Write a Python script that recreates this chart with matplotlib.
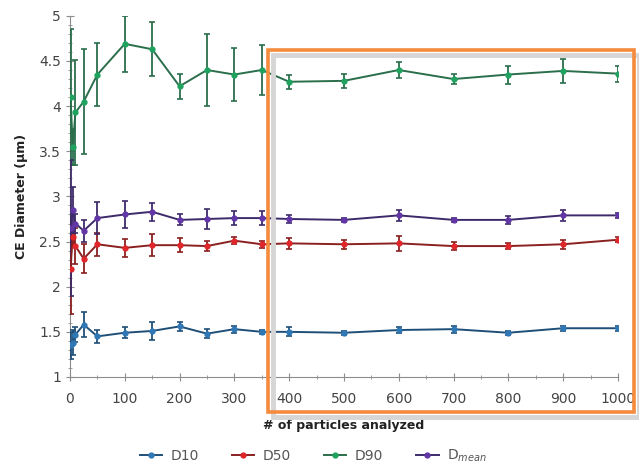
import matplotlib
matplotlib.use('Agg')
import matplotlib.pyplot as plt
from matplotlib.patches import Rectangle
from matplotlib.lines import Line2D
from matplotlib.ticker import MultipleLocator, FuncFormatter

# particle counts
n_particles = [1, 5, 10, 25, 50, 100, 150, 200, 250, 300, 350, 400, 500, 600, 700, 800, 900, 1000]

d10 = [1.35, 1.38, 1.47, 1.58, 1.45, 1.49, 1.51, 1.56, 1.48, 1.53, 1.50, 1.50, 1.49, 1.52, 1.53, 1.49, 1.54, 1.54]
d10_err = [0.15, 0.14, 0.08, 0.14, 0.07, 0.06, 0.10, 0.05, 0.05, 0.04, 0.02, 0.05, 0.02, 0.03, 0.04, 0.02, 0.03, 0.03]

d50 = [2.20, 2.55, 2.45, 2.31, 2.47, 2.43, 2.46, 2.46, 2.45, 2.51, 2.47, 2.48, 2.47, 2.48, 2.45, 2.45, 2.47, 2.52]
d50_err = [0.50, 0.10, 0.20, 0.16, 0.13, 0.10, 0.12, 0.08, 0.06, 0.04, 0.04, 0.06, 0.05, 0.08, 0.04, 0.03, 0.05, 0.03]

d90 = [4.10, 3.55, 3.93, 4.05, 4.35, 4.69, 4.63, 4.22, 4.40, 4.35, 4.40, 4.27, 4.28, 4.40, 4.30, 4.35, 4.39, 4.36]
d90_err = [0.75, 0.20, 0.58, 0.58, 0.35, 0.31, 0.30, 0.14, 0.40, 0.29, 0.28, 0.08, 0.08, 0.09, 0.06, 0.10, 0.13, 0.09]

dmean = [2.65, 2.85, 2.70, 2.62, 2.76, 2.80, 2.83, 2.74, 2.75, 2.76, 2.76, 2.75, 2.74, 2.79, 2.74, 2.74, 2.79, 2.79]
dmean_err = [0.75, 0.25, 0.10, 0.12, 0.18, 0.15, 0.10, 0.06, 0.11, 0.08, 0.08, 0.04, 0.02, 0.06, 0.02, 0.04, 0.06, 0.03]

series = [
    ('D10', d10, d10_err, '#2f78b5', '#1f4f78'),
    ('D50', d50, d50_err, '#e0262a', '#8a2020'),
    ('D90', d90, d90_err, '#1ea35f', '#2a6e4c'),
    ('D$_{mean}$', dmean, dmean_err, '#6236a6', '#3d2a6a'),
]

fig = plt.figure(figsize=(6.39, 4.66), dpi=100)
ax = fig.add_axes([0.1095, 0.191, 0.8575, 0.775])

handles = []
for name, vals, errs, col, ecol in series:
    ax.errorbar(n_particles, vals, yerr=errs, color=ecol, ecolor=ecol, elinewidth=1.3,
                capsize=2, capthick=1.2, marker='o', markersize=3.5, markerfacecolor=col,
                markeredgecolor=col, linewidth=1.4, zorder=3)
    handles.append(Line2D([], [], color=ecol, marker='o', markersize=3.5, markerfacecolor=col,
                          markeredgecolor=col, linewidth=1.4, label=name))

ax.set_xlim(0, 1000)
ax.set_ylim(1, 5)
ax.xaxis.set_major_locator(MultipleLocator(100))
ax.xaxis.set_minor_locator(MultipleLocator(50))
ax.yaxis.set_major_locator(MultipleLocator(0.5))
ax.yaxis.set_minor_locator(MultipleLocator(0.1))
ax.yaxis.set_major_formatter(FuncFormatter(lambda v, p: '%g' % v))

for s in ['top', 'right']:
    ax.spines[s].set_visible(False)
for s in ['left', 'bottom']:
    ax.spines[s].set_color('#8c8c8c')
ax.tick_params(which='both', direction='inout', colors='#8c8c8c', labelcolor='#444444', labelsize=10)
ax.tick_params(which='major', length=6)
ax.tick_params(which='minor', length=3)
ax.tick_params(axis='x', which='major', pad=8)

ax.set_xlabel('# of particles analyzed', fontsize=9, fontweight='bold', color='#222222', labelpad=9)
ax.set_ylabel('CE Diameter (µm)', fontsize=9, fontweight='bold', color='#222222', labelpad=8)

fig.legend(handles=handles, loc='center', bbox_to_anchor=(0.49, 1 - 456 / 466.0), ncol=4,
           frameon=False, fontsize=10, handlelength=1.6, columnspacing=2.4, labelcolor='#555555',
           handletextpad=0.6)

# highlight box with its drop shadow
W, H = 639.0, 466.0
x0, y0, x1, y1 = 268, 50, 634, 412
fig.patches.append(Rectangle(((x0 + 5) / W, 1 - (y1 + 5) / H), (x1 - x0) / W, (y1 - y0) / H,
                             transform=fig.transFigure, fill=False, edgecolor='#d6d6d6',
                             linewidth=3.5, zorder=9))
fig.patches.append(Rectangle((x0 / W, 1 - y1 / H), (x1 - x0) / W, (y1 - y0) / H,
                             transform=fig.transFigure, fill=False, edgecolor='#f58b3c',
                             linewidth=2.6, zorder=10))

fig.savefig('out.png', dpi=100)
